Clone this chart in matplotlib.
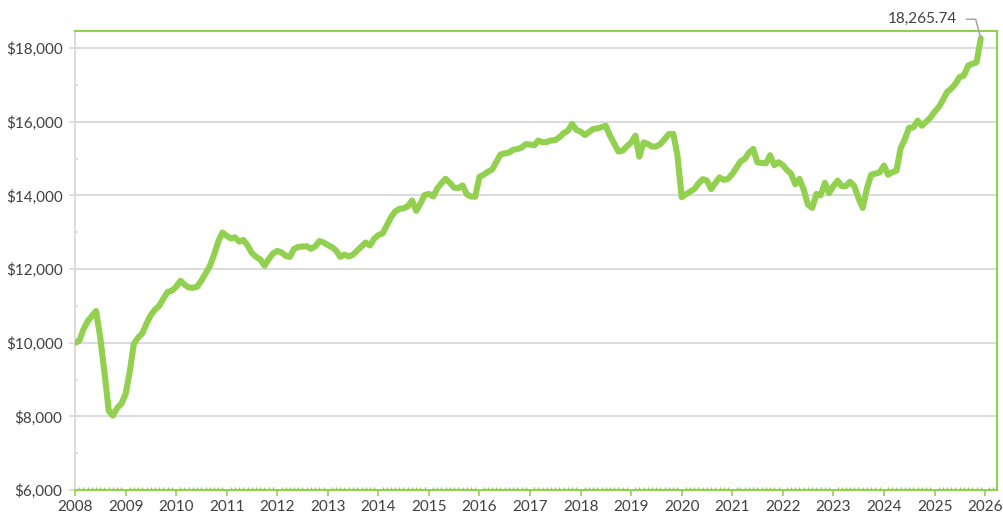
import matplotlib
matplotlib.use("Agg")
import matplotlib.pyplot as plt
import matplotlib.dates as mdates
from matplotlib.ticker import FuncFormatter, MultipleLocator
import numpy as np
import pandas as pd

# monthly account value, one list per year (Jan..Dec)
v2008 = [10000, 10050, 10350, 10580, 10720, 10860, 10150, 9190, 8150, 8020, 8230, 8340]
v2009 = [8610, 9245, 9970, 10140, 10250, 10520, 10745, 10900, 11000, 11200, 11380, 11410]
v2010 = [11520, 11680, 11580, 11500, 11490, 11520, 11680, 11880, 12080, 12380, 12745, 12990]
v2011 = [12900, 12830, 12860, 12745, 12790, 12640, 12440, 12330, 12260, 12090, 12270, 12420]
v2012 = [12490, 12450, 12360, 12330, 12545, 12600, 12610, 12620, 12550, 12610, 12760, 12720]
v2013 = [12650, 12590, 12500, 12330, 12390, 12340, 12390, 12500, 12610, 12720, 12640, 12820]
v2014 = [12920, 12970, 13170, 13400, 13560, 13630, 13650, 13700, 13860, 13580, 13780, 14010]
v2015 = [14040, 13970, 14180, 14330, 14450, 14340, 14210, 14200, 14270, 14030, 13970, 13960]
v2016 = [14500, 14560, 14640, 14700, 14900, 15110, 15140, 15160, 15240, 15255, 15300, 15390]
v2017 = [15380, 15360, 15490, 15440, 15450, 15490, 15500, 15580, 15690, 15755, 15940, 15780]
v2018 = [15730, 15640, 15715, 15800, 15820, 15850, 15890, 15620, 15400, 15190, 15215, 15330]
v2019 = [15440, 15620, 15050, 15440, 15395, 15325, 15325, 15395, 15530, 15665, 15670, 15100]
v2020 = [13950, 14030, 14100, 14170, 14320, 14440, 14400, 14170, 14340, 14490, 14420, 14450]
v2021 = [14580, 14760, 14920, 14990, 15160, 15260, 14900, 14880, 14870, 15090, 14820, 14900]
v2022 = [14820, 14680, 14590, 14300, 14450, 14150, 13750, 13660, 14040, 14000, 14340, 14060]
v2023 = [14250, 14400, 14250, 14250, 14370, 14250, 13930, 13660, 14200, 14560, 14590, 14620]
v2024 = [14810, 14560, 14630, 14670, 15280, 15530, 15835, 15845, 16030, 15890, 16000, 16105]
v2025 = [16265, 16400, 16580, 16805, 16895, 17030, 17210, 17255, 17525, 17570, 17615, 18265.74]

values = np.array(v2008 + v2009 + v2010 + v2011 + v2012 + v2013 + v2014 + v2015 + v2016
                  + v2017 + v2018 + v2019 + v2020 + v2021 + v2022 + v2023 + v2024 + v2025)
dates = pd.date_range("2008-01-01", periods=len(values), freq="MS")

green = "#92D050"
grid_gray = "#D9D9D9"
text_gray = "#404040"

plt.rcParams["font.family"] = ["Lato", "DejaVu Sans"]

fig = plt.figure(figsize=(10.04, 5.17), dpi=100)
ax = fig.add_axes([0.0747, 0.0522, 0.9183, 0.8878])

# the value line
ax.plot(dates, values, color=green, linewidth=4.4,
        solid_capstyle="round", solid_joinstyle="round", zorder=3)

# axis ranges
ax.set_xlim(pd.Timestamp("2008-01-01"), pd.Timestamp("2026-03-28"))
ax.set_ylim(6000, 18462)

# y axis: $ labels, gray spine, gridlines
ax.yaxis.set_major_locator(MultipleLocator(2000))
ax.yaxis.set_minor_locator(MultipleLocator(1000))
ax.yaxis.set_major_formatter(FuncFormatter(lambda v, p: "${:,.0f}".format(v)))
ax.grid(axis="y", which="major", color=grid_gray, linewidth=1.3, zorder=0)
ax.tick_params(axis="y", which="major", direction="out", length=4, width=1.2,
               color=grid_gray, labelcolor=text_gray, labelsize=11, pad=5)
ax.tick_params(axis="y", which="minor", direction="in", length=2.5, width=1.2,
               color=grid_gray)

# x axis: years, monthly minor ticks in green
ax.xaxis.set_major_locator(mdates.YearLocator())
ax.xaxis.set_minor_locator(mdates.MonthLocator())
ax.xaxis.set_major_formatter(mdates.DateFormatter("%Y"))
ax.tick_params(axis="x", which="major", direction="out", length=4, width=1.2,
               color=green, labelcolor=text_gray, labelsize=11, pad=3)
ax.tick_params(axis="x", which="minor", direction="in", length=2.5, width=1.0,
               color=green)

# frame: gray left, green elsewhere
ax.spines["left"].set_color(grid_gray)
ax.spines["left"].set_linewidth(1.3)
for side in ["top", "right", "bottom"]:
    ax.spines[side].set_color(green)
    ax.spines[side].set_linewidth(1.5)

# label on the last value
ax.annotate("{:,.2f}".format(values[-1]), xy=(dates[-1], values[-1]),
            xytext=(-58, 19), textcoords="offset pixels",
            ha="center", va="center", fontsize=11, color=text_gray,
            arrowprops=dict(arrowstyle="-", color="#A6A6A6", linewidth=1.1,
                            relpos=(1, 0.5), shrinkA=4.5, shrinkB=0,
                            connectionstyle="angle,angleA=0,angleB=105,rad=0"))

fig.savefig("out.png", dpi=100)
